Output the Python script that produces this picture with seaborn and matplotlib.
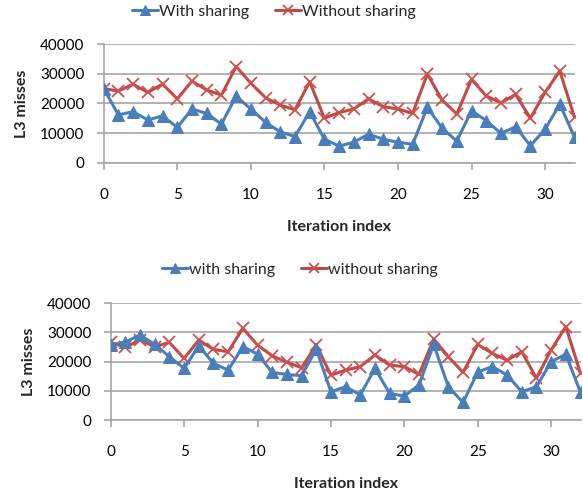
import numpy as np
import pandas as pd
import matplotlib
matplotlib.use("Agg")
import matplotlib.pyplot as plt
import seaborn as sns

# ---------------- data ----------------
iterations = list(range(33))

top_with = [25000, 16100, 17200, 14400, 15800, 11900, 18100, 16600, 13000, 22400,
            18100, 13600, 10400, 8800, 17200, 7900, 5600, 6900, 9600, 7900,
            6900, 6200, 18700, 11600, 7300, 17500, 14200, 9900, 12100, 5700,
            11300, 19700, 8600]
top_without = [24900, 24200, 26400, 23700, 26500, 21500, 27500, 24500, 22800, 32400,
               26800, 21900, 19400, 17800, 27300, 15000, 16900, 18100, 21500, 18900,
               18100, 16600, 29900, 21100, 16400, 28100, 22500, 20200, 23000, 15000,
               23700, 30900, 15300]

bot_with = [25700, 26800, 29100, 25900, 21700, 17700, 25400, 19400, 17100, 25100,
            22600, 16300, 15600, 15200, 24300, 9700, 11400, 8600, 17700, 9100,
            8200, 12000, 25900, 11400, 6000, 16500, 18300, 15400, 9700, 11400,
            20000, 22500, 9500]
bot_without = [26600, 24900, 27400, 25100, 26600, 21100, 27400, 24200, 23400, 31400,
               25700, 22000, 19800, 17900, 25700, 15400, 17100, 18300, 22300, 18800,
               18300, 15600, 27700, 21700, 16300, 25900, 22800, 20500, 23400, 14300,
               24000, 32000, 16000]

top_labels = ["With sharing", "Without sharing"]
bot_labels = ["with sharing", "without sharing"]
x_ticks = [0, 5, 10, 15, 20, 25, 30]
y_ticks = [0, 10000, 20000, 30000, 40000]

BLUE = "#4A7EBB"
RED = "#BE4B48"
GRID = "#A6A6A6"

sns.set_theme(style="white")
plt.rcParams["font.family"] = ["Lato", "DejaVu Sans"]

fig = plt.figure(figsize=(5.83, 4.93), dpi=100)
W, H = 583, 493

def make_ax(x0, x1, y0, y1):
    return fig.add_axes([x0 / W, 1 - y1 / H, (x1 - x0) / W, (y1 - y0) / H])

ax_top = make_ax(103.7, 574.5, 44, 162.7)
ax_bot = make_ax(110.7, 580.5, 303.3, 420)

def draw(ax, with_vals, without_vals, labels, legend_y, legend_x):
    df = pd.DataFrame({"it": iterations * 2,
                       "val": with_vals + without_vals,
                       "series": [labels[0]] * 33 + [labels[1]] * 33})
    sns.lineplot(data=df[df.series == labels[0]], x="it", y="val", ax=ax,
                 color=BLUE, lw=2.2, marker="^", markersize=8, markeredgecolor=BLUE,
                 label=labels[0], zorder=3)
    sns.lineplot(data=df[df.series == labels[1]], x="it", y="val", ax=ax,
                 color=RED, lw=2.2, marker="x", markersize=8, markeredgewidth=1.3,
                 markeredgecolor="#D0504D", label=labels[1], zorder=2)
    ax.set_xlim(0, 32)
    ax.set_ylim(0, 40000)
    ax.set_xticks(x_ticks)
    ax.set_yticks(y_ticks)
    ax.yaxis.grid(True, color=GRID, lw=1.2)
    ax.xaxis.grid(False)
    for s in ["top", "right"]:
        ax.spines[s].set_visible(False)
    for s in ["left", "bottom"]:
        ax.spines[s].set_color(GRID)
        ax.spines[s].set_linewidth(1.2)
    ax.tick_params(axis="x", length=5, width=1.2, color=GRID, pad=13,
                   labelsize=11, labelcolor="black", direction="out", bottom=True)
    ax.tick_params(axis="y", length=5, width=1.2, color=GRID, pad=9,
                   labelsize=11, labelcolor="black", direction="out", left=True)
    ax.set_xlabel("Iteration index", fontsize=11.5, fontweight="bold", labelpad=13)
    ax.set_ylabel("L3 misses", fontsize=11.5, fontweight="bold", labelpad=8)
    ax.legend_.remove()
    h, l = ax.get_legend_handles_labels()
    fig.legend(h, l, loc="center", bbox_to_anchor=(legend_x / W, 1 - legend_y / H),
               ncol=2, frameon=False, fontsize=11.5, handlelength=1.6,
               handletextpad=0.1, columnspacing=1.6, markerscale=0.9)

draw(ax_top, top_with, top_without, top_labels, 12, 274)
draw(ax_bot, bot_with, bot_without, bot_labels, 270, 300)

fig.savefig("out.png", dpi=100)
